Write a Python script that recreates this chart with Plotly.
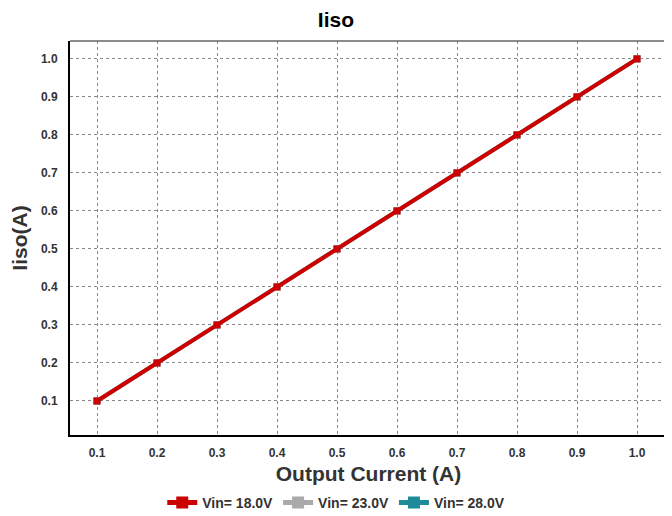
import plotly.graph_objects as go

output_current = [0.1, 0.2, 0.3, 0.4, 0.5, 0.6, 0.7, 0.8, 0.9, 1.0]
iiso_18v = [0.1, 0.2, 0.3, 0.4, 0.5, 0.6, 0.7, 0.8, 0.9, 1.0]
iiso_23v = [0.1, 0.2, 0.3, 0.4, 0.5, 0.6, 0.7, 0.8, 0.9, 1.0]
iiso_28v = [0.1, 0.2, 0.3, 0.4, 0.5, 0.6, 0.7, 0.8, 0.9, 1.0]
series_names = ["Vin= 18.0V", "Vin= 23.0V", "Vin= 28.0V"]
tick_vals = [0.1, 0.2, 0.3, 0.4, 0.5, 0.6, 0.7, 0.8, 0.9, 1.0]
tick_text = ["0.1", "0.2", "0.3", "0.4", "0.5", "0.6", "0.7", "0.8", "0.9", "1.0"]

colors = ["#CC0000", "#AAAAAA", "#1F8A9A"]
data = [iiso_18v, iiso_23v, iiso_28v]

fig = go.Figure()
for i in [2, 1, 0]:
    fig.add_trace(go.Scatter(
        x=output_current, y=data[i], name=series_names[i],
        mode="lines+markers",
        line=dict(color=colors[i], width=4),
        marker=dict(symbol="square", size=7, color=colors[i]),
        legendrank=i + 1,
    ))

font_family = "Liberation Sans, Arial, sans-serif"
fig.update_layout(
    width=672, height=516,
    margin=dict(l=62, r=13, t=33, b=89, autoexpand=False),
    paper_bgcolor="white", plot_bgcolor="white",
    title=dict(text="<b>Iiso</b>", x=0.488, xanchor="center", y=0.977, yanchor="middle",
               font=dict(family=font_family, size=21, color="#000000")),
    font=dict(family=font_family, color="#333333"),
    showlegend=True,
    legend=dict(orientation="h", x=0.446, xanchor="center", yref="container",
                y=0.041, yanchor="middle",
                font=dict(family=font_family, size=14, color="#333333", weight="bold"),
                tracegroupgap=0, itemsizing="constant"),
    xaxis=dict(range=[0.055, 1.05], tickvals=tick_vals, ticktext=tick_text,
               automargin=False,
               showgrid=True, gridcolor="#888888", griddash="dot", gridwidth=1,
               showline=True, linecolor="#000000", linewidth=2, mirror=False,
               zeroline=False, ticks="", ticklabelstandoff=6,
               tickfont=dict(family=font_family, size=12, color="#333333", weight="bold"),
               title=dict(text="<b>Output Current (A)</b>", standoff=7,
                          font=dict(family=font_family, size=21, color="#333333"))),
    yaxis=dict(range=[0.0105, 1.047], tickvals=tick_vals, ticktext=tick_text,
               automargin=False,
               showgrid=True, gridcolor="#888888", griddash="dot", gridwidth=1,
               showline=True, linecolor="#000000", linewidth=2, mirror=False,
               zeroline=False, ticks="", ticklabelstandoff=8,
               tickfont=dict(family=font_family, size=12, color="#333333", weight="bold"),
               title=dict(text="<b>Iiso(A)</b>", standoff=11,
                          font=dict(family=font_family, size=21, color="#333333"))),
    shapes=[dict(type="line", xref="paper", yref="paper", x0=0, x1=1, y0=1, y1=1,
                 line=dict(color="#666666", width=1.5)),
            dict(type="line", xref="paper", yref="paper", x0=1, x1=1, y0=0, y1=1,
                 line=dict(color="#666666", width=1.5))],
)

fig.write_html("out.html")
